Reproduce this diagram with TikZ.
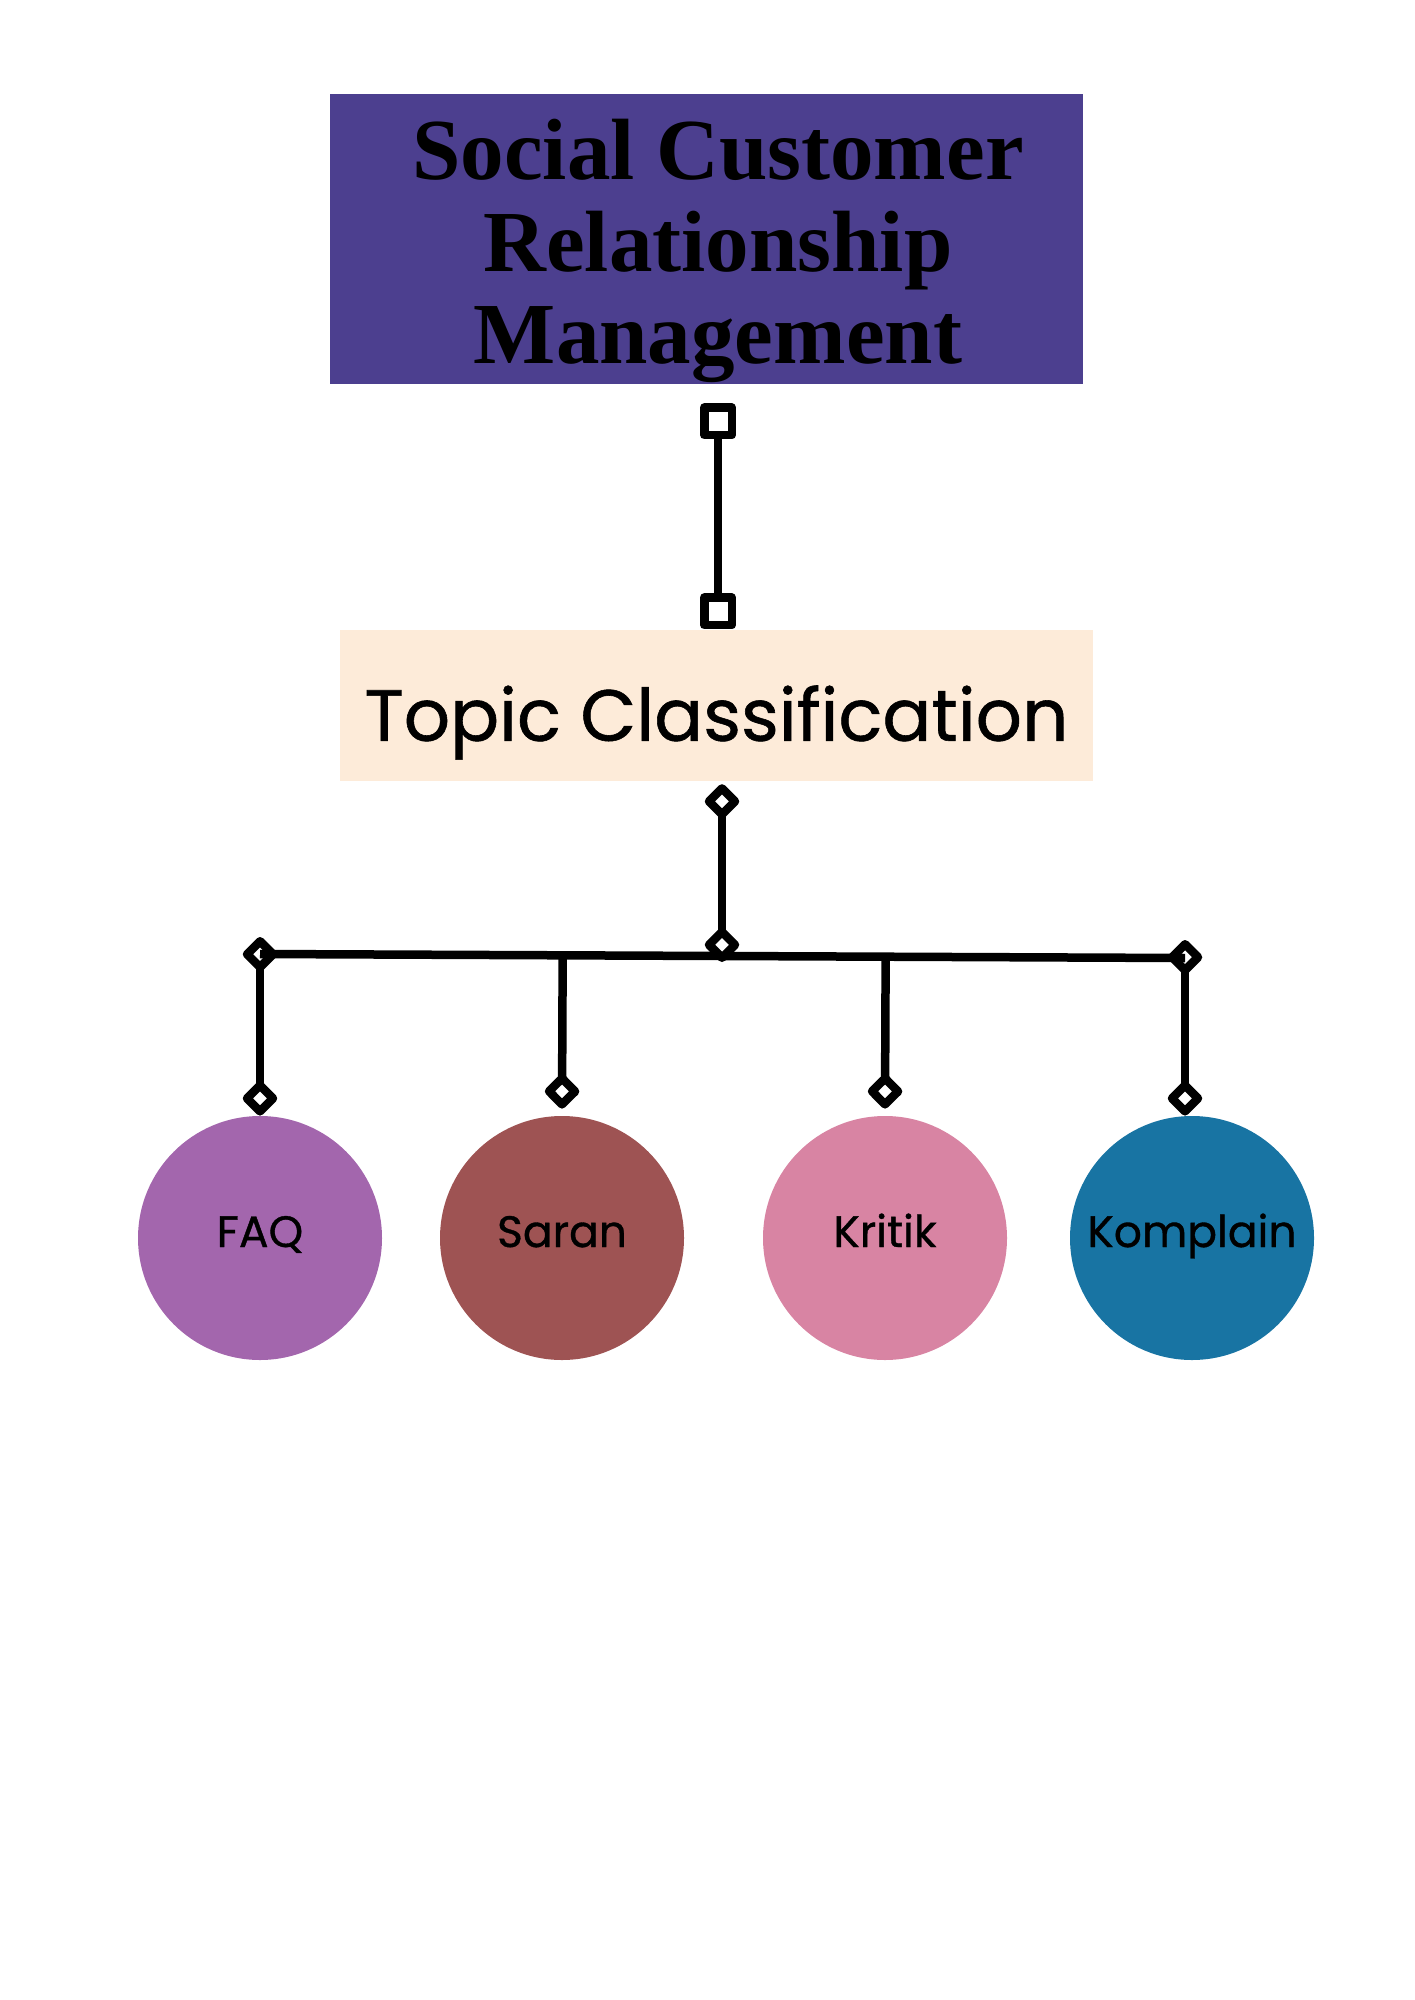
\documentclass[tikz,border=0pt]{standalone}
\usepackage{fontspec}
\setmainfont{Poppins}
\newfontfamily\medfont{Poppins}[FakeBold=0.8]
\newfontfamily\headfont{Liberation Serif}
\usetikzlibrary{positioning, arrows.meta, calc}

\definecolor{headpurple}{HTML}{4C3F8F}
\definecolor{topicpeach}{HTML}{FDEBD9}
\definecolor{faqpurple}{HTML}{A366AD}
\definecolor{saranbrown}{HTML}{9E5353}
\definecolor{kritikpink}{HTML}{D884A3}
\definecolor{komplainblue}{HTML}{1874A3}

\begin{document}
\begin{tikzpicture}[
  x=0.5pt, y=-0.5pt,
  head/.style={fill=headpurple, inner sep=0pt,
    minimum width=376.5pt, minimum height=145pt},
  headtext/.style={align=center, inner sep=0pt,
    font=\headfont\bfseries\fontsize{43.5}{46}\selectfont},
  topicbox/.style={fill=topicpeach, inner sep=0pt,
    minimum width=376.5pt, minimum height=75.5pt,
    text height=35.5pt, text depth=0pt,
    font=\medfont\fontsize{36.25}{40}\selectfont},
  cat/.style={circle, inner sep=0pt, minimum size=122pt,
    text height=15pt, text depth=6pt,
    font=\medfont\fontsize{22}{26}\selectfont},
  link/.style={line width=4.25pt},
  sqtip/.tip={Square[open, round, length=18pt, width=18pt]},
  dtip/.tip={Diamond[open, round, length=19pt, width=19pt]},
  sqlink/.style={link, sqtip-sqtip},
  dlink/.style={link, dtip-dtip},
  droplink/.style={link, -dtip},
]
\useasboundingbox (0,0) rectangle (1414,2000);

% --- boxes ---
\node[head] (title) at (706.5,239) {};
\node[headtext] (titletext) at ([shift={(11.5,12)}]title.center)
  {Social Customer\\Relationship\\Management};
\node[topicbox, below=122.5pt of title, xshift=5pt] (topic) {Topic Classification};

% --- categories ---
\node[cat, fill=faqpurple] (faq) at (260,1238) {FAQ};
\node[cat, fill=saranbrown] (saran) at (562,1238) {Saran};
\node[cat, fill=kritikpink] (kritik) at (885,1238) {Kritik};
\node[cat, fill=komplainblue] (komplain) at (1192,1238) {Komplain};

% --- bar ---
\coordinate (barL) at (260,954);
\coordinate (barR) at (1185,958);
\coordinate (hub) at (722,962);
\draw[link] (barL) -- (barR);

% --- connectors ---
\draw[sqlink] ([shift={(11.5,19)}]title.south) -- ([xshift=0.75pt]topic.north);
\draw[dlink] ([shift={(5.5,3)}]topic.south) -- (hub);
\draw[dlink] ([yshift=8.5pt]barL) -- (faq.north);
\draw[dlink] ([yshift=9pt]barR) -- ([xshift=-3.5pt]komplain.north);
\draw[droplink] ($(barL)!(saran.north)!(barR)$) -- ([yshift=3.5pt]saran.north);
\draw[droplink] ($(barL)!(kritik.north)!(barR)$) -- ([yshift=3.5pt]kritik.north);

\end{tikzpicture}
\end{document}
